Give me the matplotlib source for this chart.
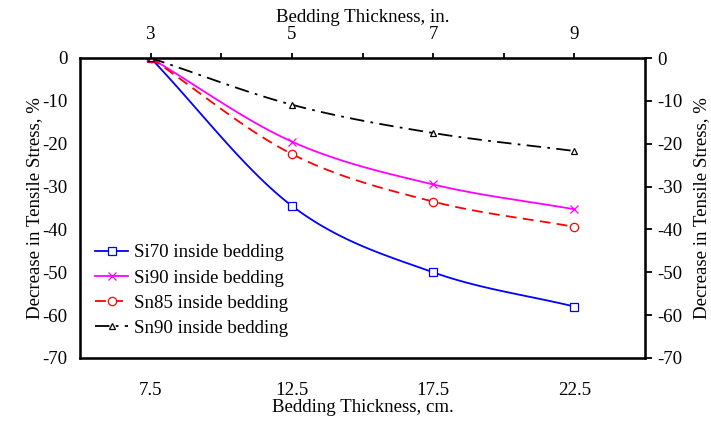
import numpy as np
import matplotlib
matplotlib.use("Agg")
import matplotlib.pyplot as plt

# data
thick_cm = [7.5, 12.5, 17.5, 22.5]
top_ticks_in = [3, 5, 7, 9]
si70 = [0, -34.5, -50.0, -58.0]
si90 = [0, -19.5, -29.5, -35.3]
sn85 = [0, -22.4, -33.5, -39.4]
sn90 = [0, -10.9, -17.5, -21.7]
names = ["Si70 inside bedding", "Si90 inside bedding",
         "Sn85 inside bedding", "Sn90 inside bedding"]

plt.rcParams['font.family'] = ['Liberation Serif', 'DejaVu Serif']
plt.rcParams['font.size'] = 13.6
plt.rcParams['axes.unicode_minus'] = False


def smooth(x, y, n=30):
    # catmull-rom curve through the points, just for drawing the line
    x = np.asarray(x, float)
    y = np.asarray(y, float)
    px = np.concatenate([[2 * x[0] - x[1]], x, [2 * x[-1] - x[-2]]])
    py = np.concatenate([[2 * y[0] - y[1]], y, [2 * y[-1] - y[-2]]])
    xs, ys = [], []
    t = np.linspace(0, 1, n, endpoint=False)
    for i in range(1, len(px) - 2):
        for arr, out in ((px, xs), (py, ys)):
            p0, p1, p2, p3 = arr[i - 1], arr[i], arr[i + 1], arr[i + 2]
            out.extend(0.5 * (2 * p1 + (-p0 + p2) * t
                              + (2 * p0 - 5 * p1 + 4 * p2 - p3) * t ** 2
                              + (-p0 + 3 * p1 - 3 * p2 + p3) * t ** 3))
    xs.append(x[-1])
    ys.append(y[-1])
    return np.array(xs), np.array(ys), list(range(0, len(xs), n))


fig = plt.figure(figsize=(7.11, 4.25), dpi=100)
ax = fig.add_axes([80 / 711, 1 - 358 / 425, 565 / 711, 300 / 425])

styles = [
    dict(color='#0000ff', ls='-', marker='s', ms=6),
    dict(color='#ff00ff', ls='-', marker='x', ms=6),
    dict(color='#ff0000', ls=(0, (6, 3.5)), marker='o', ms=6),
    dict(color='#000000', ls=(0, (8, 3.5, 1.5, 3.5)), marker='^', ms=5),
]
for vals, name, st in zip([si70, si90, sn85, sn90], names, styles):
    xs, ys, idx = smooth(thick_cm, vals)
    ax.plot(xs, ys, color=st['color'], ls=st['ls'], lw=1.3,
            marker=st['marker'], markevery=idx, markersize=st['ms'],
            markerfacecolor='white' if st['marker'] != 'x' else st['color'],
            markeredgecolor=st['color'], markeredgewidth=0.9, label=name)

ax.set_xlim(5, 25)
ax.set_ylim(-70, 0)
ax.set_xticks(thick_cm)
ax.set_xticklabels([str(v) for v in thick_cm])
ax.set_yticks(np.arange(-70, 1, 10))
ax.tick_params(axis='x', bottom=True, length=0, pad=17)
ax.tick_params(axis='y', left=True, length=0, pad=9)
ax.set_xlabel("Bedding Thickness, cm.", labelpad=0)
ax.set_ylabel("Decrease in Tensile Stress, %", labelpad=-1)
for s in ax.spines.values():
    s.set_linewidth(1.8)

# right side ticks and label
ay = ax.twinx()
ay.set_ylim(-70, 0)
ay.set_yticks(np.arange(-70, 1, 10))
ay.tick_params(axis='y', direction='out', length=5, width=1.3, pad=4)
ay.set_ylabel("Decrease in Tensile Stress, %", labelpad=7)

# top axis in inches
at = ax.twiny()
at.set_xlim(5, 25)
at.set_xticks(thick_cm)
at.set_xticklabels([str(v) for v in top_ticks_in])
at.set_xticks([10, 15, 20], minor=True)
at.tick_params(axis='x', which='both', direction='out', length=3.6, width=1.3, pad=7)
at.set_xlabel("Bedding Thickness, in.", labelpad=3)

ax.legend(loc='lower left', bbox_to_anchor=(0.0, 0.02), frameon=False,
          handlelength=1.75, handletextpad=0.3, labelspacing=0.42,
          borderaxespad=0.4, fontsize=13.6)

fig.savefig("out.png", dpi=100)
